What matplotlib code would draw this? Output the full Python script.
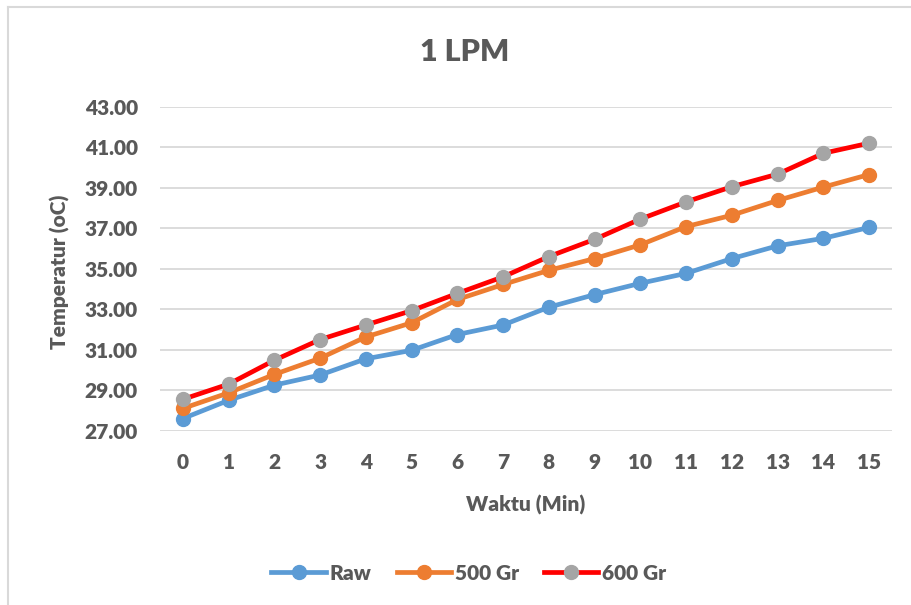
import matplotlib
matplotlib.use("Agg")
import matplotlib.pyplot as plt
from matplotlib.lines import Line2D

# data
menit = list(range(16))
raw = [27.6, 28.5, 29.25, 29.75, 30.55, 30.97, 31.75, 32.22, 33.1, 33.72, 34.28, 34.77, 35.5, 36.13, 36.5, 37.04]
gr500 = [28.1, 28.87, 29.78, 30.58, 31.63, 32.33, 33.48, 34.22, 34.92, 35.5, 36.18, 37.08, 37.64, 38.37, 39.03, 39.65]
gr600 = [28.55, 29.3, 30.48, 31.5, 32.22, 32.93, 33.78, 34.6, 35.6, 36.45, 37.45, 38.3, 39.05, 39.67, 40.7, 41.2]
yticks = [27, 29, 31, 33, 35, 37, 39, 41, 43]

abu = "#595959"
tebal = 'heavy'
plt.rcParams['font.family'] = ['Lato', 'DejaVu Sans']
plt.rcParams['font.weight'] = tebal

fig = plt.figure(figsize=(9.11, 6.05), dpi=100)
ax = fig.add_axes([160/911, 1-430.7/605, 732/911, 324/605])

gaya = dict(lw=3.4, marker='o', ms=10, zorder=3)
ax.plot(menit, raw, color="#5B9BD5", mfc="#5B9BD5", mec="#5B9BD5", **gaya)
ax.plot(menit, gr500, color="#ED7D31", mfc="#ED7D31", mec="#ED7D31", **gaya)
ax.plot(menit, gr600, color="#FF0000", mfc="#A5A5A5", mec="#A5A5A5", **gaya)

ax.set_xlim(-0.5, 15.5)
ax.set_ylim(27, 43)
ax.set_yticks(yticks)
ax.set_yticklabels(["%.2f" % v for v in yticks])
ax.set_xticks(menit)
ax.grid(axis='y', color="#D9D9D9", lw=1.3)
ax.set_axisbelow(True)
for s in ax.spines.values():
    s.set_visible(False)
ax.tick_params(axis='both', length=0, labelsize=15, labelcolor=abu, pad=16)
for t in ax.get_xticklabels() + ax.get_yticklabels():
    t.set_fontweight(tebal)

fig.text(465/911, 1-52/605, "1 LPM", fontsize=22, color=abu, fontweight=tebal, ha='center', va='center')
fig.text(526/911, 1-505/605, "Waktu (Min)", fontsize=15, color=abu, fontweight=tebal, ha='center', va='center')
fig.text(60/911, 1-272/605, "Temperatur (oC)", fontsize=15, color=abu, fontweight=tebal,
         ha='center', va='center', rotation=90)

handles = [
    Line2D([], [], color="#5B9BD5", mfc="#5B9BD5", mec="#5B9BD5", **gaya),
    Line2D([], [], color="#ED7D31", mfc="#ED7D31", mec="#ED7D31", **gaya),
    Line2D([], [], color="#FF0000", mfc="#A5A5A5", mec="#A5A5A5", **gaya),
]
leg = fig.legend(handles, ["Raw", "500 Gr", "600 Gr"], loc='center', bbox_to_anchor=(469/911, 1-573/605),
                 ncol=3, frameon=False, fontsize=15, handlelength=2.6, handletextpad=0.2, columnspacing=1.2)
for t in leg.get_texts():
    t.set_color(abu)
    t.set_fontweight(tebal)

# border of the chart area
fig.add_artist(Line2D([8/911, 1], [1-7/605, 1-7/605], color="#D9D9D9", lw=1.5))
fig.add_artist(Line2D([8/911, 8/911], [0, 1-7/605], color="#D9D9D9", lw=1.5))

fig.savefig("out.png", dpi=100)
